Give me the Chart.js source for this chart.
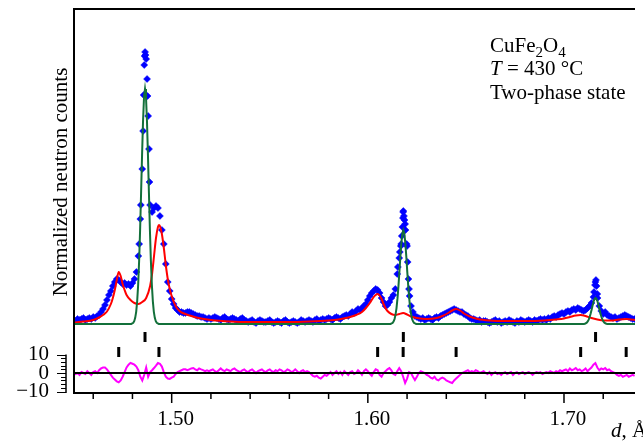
<!DOCTYPE html>
<html>
<head>
<meta charset="utf-8">
<script src="https://cdn.jsdelivr.net/npm/chart.js@4.4.1/dist/chart.umd.min.js"></script>
<style>
    html, body { margin: 0; padding: 0; background: #fff; }
    canvas { display: block; }
</style>
</head>
<body>
<canvas id="chart_canvas" width="643" height="441" style="width:643px;height:441px"></canvas>
<script>
// observed counts on the measurement grid d = obs_start + i * obs_step
const obs_start = 1.450;
const obs_step = 0.001;
const obs_counts = [
    4, 3, 5, 4, 5, 6, 4, 5, 6, 5,            // 1.450
    7, 6, 8, 9, 12, 15, 19, 24, 29, 33,      // 1.460
    38, 42, 45, 44, 42, 40, 41, 39, 40, 38,  // 1.470
    41, 45, 52, 68, 105, 155, 259, 265, 208, 119, // 1.480
    112, 116, 118, 116, 108, 94, 80, 60, 42, 33,  // 1.490
    25, 20, 16, 14, 12, 12, 11, 11, 12, 12,  // 1.500
    11, 10, 9, 8, 8, 7, 7, 6, 5, 6,          // 1.510
    5, 6, 7, 6, 5, 4, 6, 7, 5, 4,            // 1.520
    5, 6, 5, 4, 3, 5, 6, 4, 3, 2,            // 1.530
    3, 4, 2, 1, 3, 4, 3, 2, 2, 3,            // 1.540
    4, 2, 1, 2, 3, 2, 1, 3, 4, 2,            // 1.550
    1, 2, 3, 2, 1, 2, 4, 3, 2, 3,            // 1.560
    4, 3, 2, 4, 5, 3, 4, 5, 4, 5,            // 1.570
    6, 5, 4, 6, 7, 6, 5, 7, 8, 9,            // 1.580
    8, 10, 12, 11, 13, 15, 14, 16, 18, 20,   // 1.590
    24, 28, 31, 33, 35, 34, 31, 26, 22, 18,  // 1.600
    19, 22, 26, 29, 35, 50, 66, 80, 112, 100, // 1.610
    78, 35, 18, 12, 8, 7, 6, 5, 6, 4,        // 1.620
    5, 6, 5, 4, 6, 7, 6, 8, 9, 10,           // 1.630
    11, 12, 13, 14, 15, 14, 13, 12, 12, 10,  // 1.640
    9, 8, 6, 5, 5, 4, 3, 4, 2, 3,            // 1.650
    3, 2, 1, 2, 3, 4, 2, 3, 1, 2,            // 1.660
    3, 2, 4, 3, 2, 1, 3, 2, 4, 3,            // 1.670
    2, 3, 4, 3, 2, 4, 3, 4, 5, 4,            // 1.680
    5, 4, 6, 5, 7, 8, 7, 9, 10, 11,          // 1.690
    10, 12, 13, 12, 14, 15, 14, 16, 15, 14,  // 1.700
    13, 14, 16, 18, 21, 27, 42, 30, 18, 13,  // 1.710
    10, 12, 9, 8, 7, 6, 7, 5, 6, 7,          // 1.720
    8, 9, 8, 7, 6, 5, 5                      // 1.730
];

// extra observed points on the steep peaks (the scan is denser there)
const obs_peak_d = [
    1.48342, 1.48427, 1.48543, 1.48568, 1.48618, 1.48643, 1.48668, 1.48744, 1.48769, 1.48844, 1.48869,
    1.6153, 1.6163, 1.6168, 1.6173, 1.6176, 1.6179, 1.6181, 1.6184, 1.6187, 1.6192, 1.6198, 1.6203, 1.6207, 1.6213,
    1.7153, 1.7158, 1.7163, 1.7166, 1.7171
];
const obs_peak_counts = [
    80, 119, 193, 229, 268, 272, 269, 245, 228, 175, 142,
    57, 72, 78, 88, 97, 106, 113, 108, 104, 94, 80, 62, 45, 28,
    32, 39, 44, 38, 26
];

// obs - calc, same grid as obs_counts
const diff_counts = [
    0.5, -0.5, 0, -1, 0.5, 0, -0.5, 1, 0, -1,
    0.5, 1, 0, 1.5, 2.5, 3, 3, 2, 0.5, -1,
    -2.5, -3.5, -4.5, -5, -4, -2, 0.5, 3, 4.5, 5.5,
    5, 4.5, 3.5, 1.5, -2, -4, -1, 3, -2, 0.5,
    1.5, 2.7, 4, 5.4, 5, 3.5, 0.5, -2, -3, -3.2,
    -2.5, -2, -0.5, 0.5, 1, 1.5, 2, 2, 1.5, 2,
    2.5, 2.7, 2, 1.5, 2.5, 2, 1.6, 1, 1.5, 1,
    1.5, 2, 1, 0.5, 1.5, 2.5, 1.5, 1, 2, 1.5,
    1, 2, 2.5, 1.5, 1, 0.5, 1.5, 2, 1, 0.5,
    1.5, 2, 1, 0, 1, 1.5, 2, 1, 0.5, 1.5,
    2, 1, 0.5, 1.5, 1, 2, 1.5, 0.5, 1, 2,
    1.5, 0.5, 1, 2, 1, 0, 1, 1.5, 0.5, 1,
    0.5, -0.5, -1.5, -2, -1.5, -2.5, -3, -2, -1, -1.5,
    -0.5, 0.5, -1, 0, 1, -0.5, 0.5, -1, 1, 0,
    -1, 0.5, 1, -0.5, 0, 1.5, 0.5, -1, 1, 2,
    1, -0.5, -1.5, 0.5, 2, 1.5, -1, -2, 0, 1,
    2, 2.7, 1.5, -0.5, -1, 1, 2.7, 1, -2, -5.4,
    -3, 0.5, 0, -2, -3.8, -2, 0, 1, 0.5, 0,
    -1, -1.5, -2.5, -3, -2, -3.5, -4, -3, -2.5, -3,
    -4, -4.5, -5, -5.4, -4, -3, -2, -1, 0, 0.5,
    1, 1.5, 0.5, 1, 0.5, 1.5, 1, 0, 0.5, 1,
    0, -0.5, 0.5, -1, 0, 0.5, -0.5, 0, -1, 0,
    0.5, -0.5, 0, 0.5, -1, 0, 0.5, -0.5, 0, 0.5,
    -0.5, 0, 0.5, 0, -1, 0, 0.5, 0, 0.5, -0.5,
    0, 0.5, 0, 1, 0.5, 0, 1, 0.5, 1.5, 1,
    1.5, 2, 1, 2.5, 1.5, 2, 2.7, 1.5, 2, 1,
    1.5, 2.5, 1, 2, 3, 4.5, 5.4, 3, 1.5, 2.5,
    2, 2.7, 1.5, 2, 1, 0.5, 0, -1, -1.5, -1,
    -2, -1.5, -1, -2, -1.5, -1, -1.5
];

// calculated profile, tetragonal phase (red)
const red_d = [
    1.4502, 1.455, 1.460, 1.463, 1.465, 1.467, 1.469, 1.470, 1.471, 1.472,
    1.473, 1.474, 1.475, 1.476, 1.477, 1.479, 1.481, 1.483, 1.485, 1.487,
    1.489, 1.490, 1.491, 1.492, 1.493, 1.4935, 1.494, 1.495, 1.496, 1.497,
    1.498, 1.499, 1.500, 1.502, 1.504, 1.507, 1.510, 1.515, 1.520, 1.530,
    1.540, 1.550, 1.560, 1.570, 1.580, 1.585, 1.590, 1.594, 1.597, 1.599,
    1.601, 1.603, 1.604, 1.605, 1.606, 1.607, 1.608, 1.609, 1.610, 1.612,
    1.614, 1.616, 1.618, 1.620, 1.622, 1.625, 1.630, 1.635, 1.638, 1.641,
    1.643, 1.645, 1.647, 1.649, 1.652, 1.656, 1.662, 1.670, 1.680, 1.690,
    1.696, 1.700, 1.703, 1.706, 1.7085, 1.711, 1.714, 1.717, 1.720, 1.724,
    1.728, 1.7317, 1.734, 1.7362
];
const red_counts = [
    1.5, 2.5, 4, 6.5, 9, 12.5, 20, 26, 34, 44,
    52, 48, 40, 34, 29, 24, 21, 20, 22, 26,
    38, 50, 68, 86, 97, 99, 98, 90, 76, 59,
    45, 35, 28, 18, 13, 10, 8, 5.5, 4, 2.5,
    2, 2, 2, 2.5, 3.5, 4.5, 6.5, 9, 12, 16,
    21, 27, 29, 30, 28.5, 25, 20, 16, 13, 10,
    9, 10, 11, 9.5, 7.5, 6, 5, 6, 8, 11,
    13.5, 15, 13.5, 10.5, 7.5, 5, 3.5, 3, 3, 3.5,
    4.5, 5.5, 7, 8.5, 9, 8, 6, 4.5, 3.5, 3.5,
    4.5, 5, 4.5, 4
];

// calculated profile, cubic phase (green)
const green_d = [
    1.4502, 1.4794,
    1.4799, 1.4804, 1.4809, 1.4814, 1.4819, 1.4824, 1.4829, 1.4834, 1.4839, 1.4844, 1.4849, 1.4854, 1.4859,
    1.4864, 1.4869, 1.4874, 1.4879, 1.4884, 1.4889, 1.4894, 1.4899, 1.4904, 1.4909, 1.4914, 1.4919, 1.4924, 1.4929,
    1.4934, 1.6116,
    1.6121, 1.6126, 1.6131, 1.6136, 1.6141, 1.6146, 1.6151, 1.6156, 1.6161, 1.6166, 1.6171, 1.6176,
    1.6181, 1.6186, 1.6191, 1.6196, 1.6201, 1.6206, 1.6211, 1.6216, 1.6221, 1.6226, 1.6231, 1.6236, 1.6241,
    1.6246, 1.7101,
    1.7106, 1.7111, 1.7116, 1.7121, 1.7126, 1.7131, 1.7136, 1.7141, 1.7146, 1.7151, 1.7156,
    1.7161, 1.7166, 1.7171, 1.7176, 1.7181, 1.7186, 1.7191, 1.7196, 1.7201, 1.7206, 1.7211, 1.7216,
    1.7221, 1.7362
];
const green_counts = [
    0, 0,
    0.5, 1.2, 2.8, 6.1, 12.2, 22.7, 39, 63, 94, 131, 169, 203, 227,
    235, 227, 203, 169, 131, 94, 63, 39, 22.7, 12.2, 6.1, 2.8, 1.2, 0.5,
    0, 0,
    0.5, 1.1, 2.4, 4.9, 9.1, 15.7, 25.3, 37.7, 52.4, 67.7, 81.2, 90.6,
    94, 90.6, 81.2, 67.7, 52.4, 37.7, 25.3, 15.7, 9.1, 4.9, 2.4, 1.1, 0.5,
    0, 0,
    0.3, 0.7, 1.3, 2.5, 4.3, 7, 10.4, 14.5, 18.7, 22.5, 25,
    26, 25, 22.5, 18.7, 14.5, 10.4, 7, 4.3, 2.5, 1.3, 0.7, 0.3,
    0, 0
];

// Bragg reflection positions
const bragg_cubic = [1.4864, 1.6181, 1.7161];
const bragg_tetra = [1.473, 1.4935, 1.605, 1.618, 1.645, 1.7085, 1.7317];

const x_tick_values = [1.46, 1.48, 1.50, 1.52, 1.54, 1.56, 1.58, 1.60, 1.62, 1.64, 1.66, 1.68, 1.70, 1.72];
const x_labels = ["1.50", "1.60", "1.70"];
const diff_ticks = [-10, 0, 10];

const serif = "'Liberation Serif', 'Times New Roman', serif";

// rows of the bragg bars, in main-axis units below the baseline
const row_cubic = -13;
const row_tetra = -28;

function draw_runs(ctx, x, y, runs) {
    for (const r of runs) {
        ctx.font = r.font;
        ctx.fillText(r.text, x, y + (r.dy || 0));
        x += ctx.measureText(r.text).width;
    }
}

const decorations = {
    id: "decorations",
    afterDatasetsDraw(chart) {
        const ctx = chart.ctx;
        const area = chart.chartArea;
        const xs = chart.scales.x;
        const yd = chart.scales.yd;
        ctx.save();
        ctx.strokeStyle = "#000";
        ctx.fillStyle = "#000";

        // zero line of the difference curve
        const y0 = yd.getPixelForValue(0);
        ctx.lineWidth = 2;
        ctx.beginPath();
        ctx.moveTo(area.left, y0);
        ctx.lineTo(area.right, y0);
        ctx.stroke();

        // frame, right side is cut off in the original
        ctx.beginPath();
        ctx.moveTo(area.right, area.top);
        ctx.lineTo(area.left, area.top);
        ctx.lineTo(area.left, area.bottom);
        ctx.lineTo(area.right, area.bottom);
        ctx.stroke();

        // x ticks, longer under the labels
        ctx.lineWidth = 1.5;
        for (const t of xs.ticks) {
            const px = xs.getPixelForValue(t.value);
            const len = x_labels.includes(t.value.toFixed(2)) ? 10 : 6;
            ctx.beginPath();
            ctx.moveTo(px, area.bottom);
            ctx.lineTo(px, area.bottom + len);
            ctx.stroke();
        }

        // small axis of the difference curve
        const ax = area.left - 8;
        ctx.lineWidth = 1.5;
        ctx.beginPath();
        ctx.moveTo(ax, yd.getPixelForValue(10));
        ctx.lineTo(ax, area.bottom);
        ctx.stroke();
        ctx.lineWidth = 1;
        for (let v = -10; v <= 10; v += 2) {
            const py = Math.round(yd.getPixelForValue(v)) + 0.5;
            const len = diff_ticks.includes(v) ? 9 : 5;
            ctx.beginPath();
            ctx.moveTo(ax, py);
            ctx.lineTo(ax - len, py);
            ctx.stroke();
        }
        ctx.font = "21px " + serif;
        ctx.textAlign = "right";
        ctx.textBaseline = "middle";
        for (const v of diff_ticks) {
            ctx.fillText(v < 0 ? "\u2212" + Math.abs(v) : String(v), ax - 17, yd.getPixelForValue(v));
        }

        // y title
        ctx.save();
        ctx.translate(67, 182);
        ctx.rotate(-Math.PI / 2);
        ctx.textAlign = "center";
        ctx.textBaseline = "alphabetic";
        ctx.font = "21px " + serif;
        ctx.fillText("Normalized neutron counts", 0, 0);
        ctx.restore();

        // sample notes
        ctx.textAlign = "left";
        ctx.textBaseline = "alphabetic";
        const f = "21px " + serif, fi = "italic 21px " + serif, fs = "15px " + serif;
        draw_runs(ctx, 490, 52, [
            { text: "CuFe", font: f }, { text: "2", font: fs, dy: 5 },
            { text: "O", font: f }, { text: "4", font: fs, dy: 5 }
        ]);
        draw_runs(ctx, 490, 75, [{ text: "T", font: fi }, { text: " = 430 \u00B0C", font: f }]);
        draw_runs(ctx, 490, 99, [{ text: "Two-phase state", font: f }]);

        // x title
        draw_runs(ctx, 611, 437, [{ text: "d", font: fi }, { text: ", \u00C5", font: f }]);

        ctx.restore();
    }
};

const obs_points = obs_counts.map((v, i) => ({ x: obs_start + i * obs_step, y: v }));
const obs_peak_points = obs_peak_d.map((d, i) => ({ x: d, y: obs_peak_counts[i] }));
const diff_points = diff_counts.map((v, i) => ({ x: obs_start + i * obs_step, y: v }));

new Chart($$("chart_canvas"), {
    type: "scatter",
    data: {
        datasets: [
            {
                data: green_d.map((d, i) => ({ x: d, y: green_counts[i] })),
                showLine: true,
                borderColor: "#13703a",
                borderWidth: 2,
                pointRadius: 0,
                tension: 0
            },
            {
                data: red_d.map((d, i) => ({ x: d, y: red_counts[i] })),
                showLine: true,
                borderColor: "#ff0000",
                borderWidth: 2,
                pointRadius: 0,
                cubicInterpolationMode: "monotone"
            },
            {
                data: bragg_cubic.map((d) => ({ x: d, y: row_cubic })),
                pointStyle: "line",
                pointRotation: 90,
                pointRadius: 5,
                pointBorderWidth: 3,
                pointBorderColor: "#000"
            },
            {
                data: bragg_tetra.map((d) => ({ x: d, y: row_tetra })),
                pointStyle: "line",
                pointRotation: 90,
                pointRadius: 5,
                pointBorderWidth: 3,
                pointBorderColor: "#000"
            },
            {
                data: diff_points,
                yAxisID: "yd",
                showLine: true,
                borderColor: "#ff00ff",
                borderWidth: 2,
                pointRadius: 0
            },
            {
                data: obs_peak_points,
                pointStyle: "rectRot",
                pointRadius: 3.5,
                pointBackgroundColor: "#0000ff",
                pointBorderColor: "#0000ff",
                pointBorderWidth: 0.5
            },
            {
                data: obs_points,
                pointStyle: "rectRot",
                pointRadius: 3.5,
                pointBackgroundColor: "#0000ff",
                pointBorderColor: "#0000ff",
                pointBorderWidth: 0.5
            }
        ]
    },
    options: {
        responsive: false,
        animation: false,
        events: [],
        devicePixelRatio: 1,
        layout: { padding: { left: 74, top: 9, right: 0, bottom: 0 } },
        plugins: { legend: { display: false }, tooltip: { enabled: false } },
        scales: {
            x: {
                type: "linear",
                min: 1.4502,
                max: 1.7362,
                grid: { display: false, drawTicks: false },
                border: { display: false },
                afterBuildTicks: (scale) => {
                    scale.ticks = x_tick_values.map((v) => ({ value: v }));
                },
                afterFit: (scale) => {
                    scale.height = 48;
                },
                ticks: {
                    autoSkip: false,
                    maxRotation: 0,
                    padding: 14,
                    labelOffset: 4,
                    color: "#000",
                    font: { family: serif, size: 21 },
                    callback: (v) => {
                        const s = Number(v).toFixed(2);
                        return x_labels.includes(s) ? s : "";
                    }
                }
            },
            y: { display: false, min: -69, max: 315 },
            yd: { display: false, min: -10.8, max: 196.8 }
        }
    },
    plugins: [decorations]
});

function $$(x) {
    return document.getElementById(x);
}
</script>
</body>
</html>
